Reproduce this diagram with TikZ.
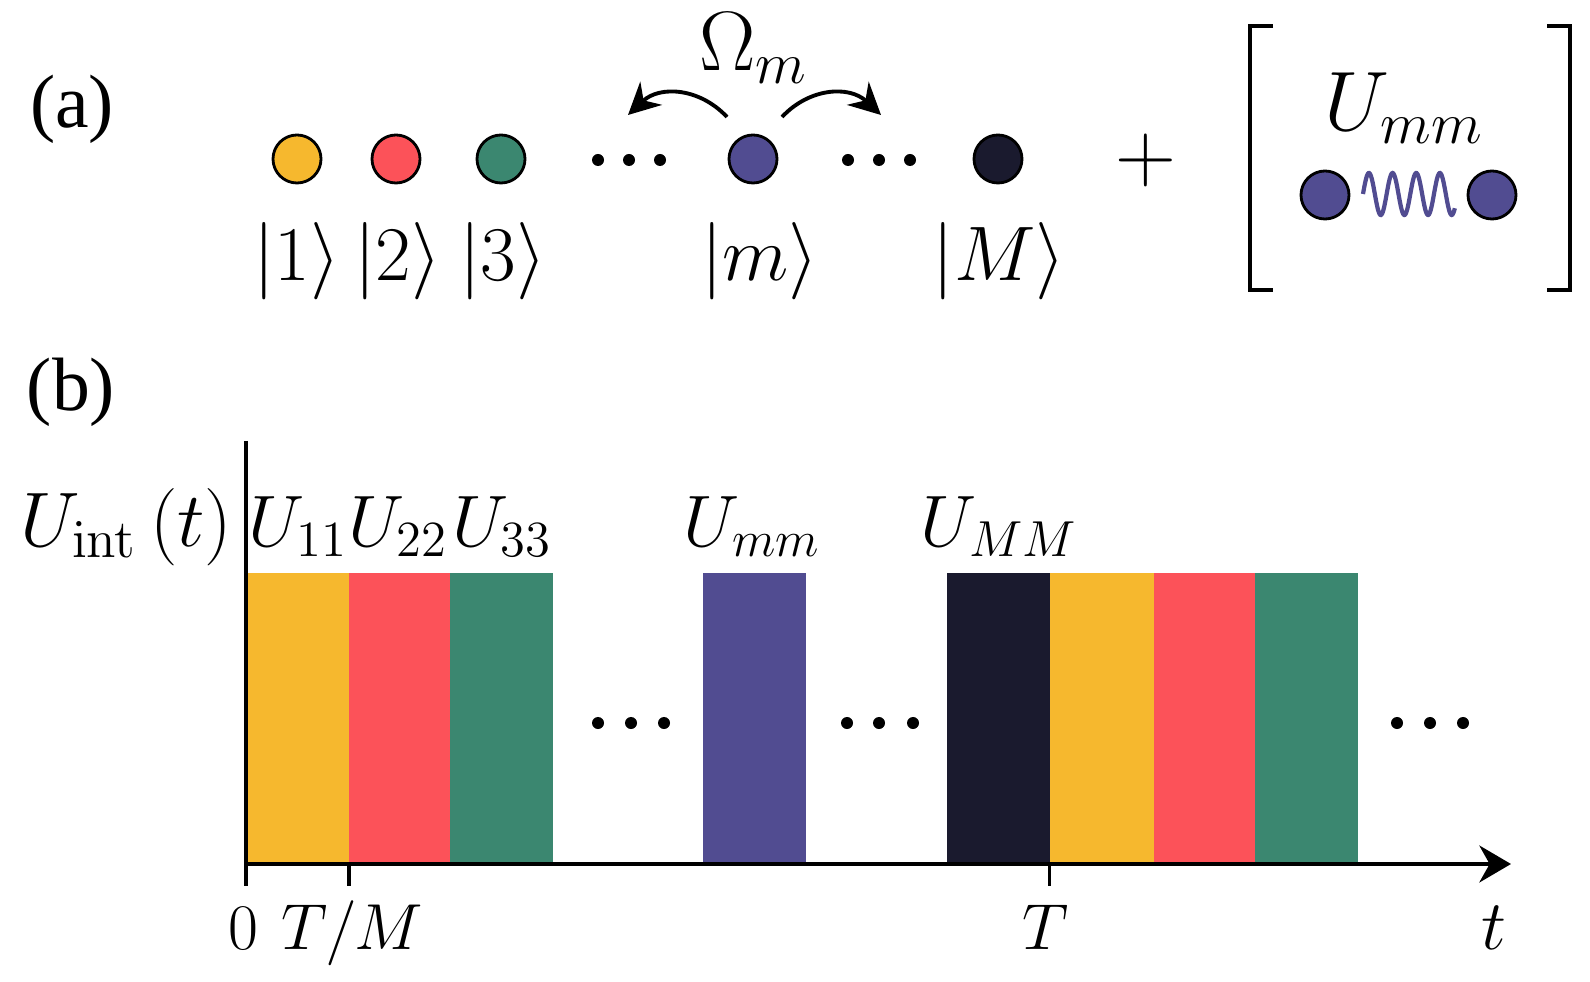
\RequirePackage{fix-cm}
\documentclass[tikz,border=0pt]{standalone}
\usepackage[no-math]{fontspec}
\newfontfamily\tmsfont{Liberation Serif}
\usetikzlibrary{arrows.meta}
\definecolor{amarillo}{HTML}{F6B82E}
\definecolor{rojo}{HTML}{FC5259}
\definecolor{verde}{HTML}{3B8770}
\definecolor{morado}{HTML}{514C91}
\definecolor{negro}{HTML}{1A1A2E}
\begin{document}
\begin{tikzpicture}[x=0.01cm, y=-0.01cm,
    every node/.style={font=\huge, inner sep=0pt},
    grande/.style={font=\fontsize{24}{28}\selectfont},
    ket/.style={font=\fontsize{22}{26}\selectfont, anchor=base},
    panel/.style={font=\fontsize{21.5}{26}\selectfont\tmsfont},
    marca/.style={font=\fontsize{18.5}{22}\selectfont, anchor=base},
    estado/.style={circle, draw=black, line width=0.8pt, minimum size=0.48cm, inner sep=0pt},
    punto/.style={circle, fill=black, minimum size=0.12cm, inner sep=0pt},
    flecha/.style={-{Stealth[length=9pt, width=9pt]}, line width=1.1pt}]
                \useasboundingbox (0,0) rectangle (1590,982);

                % Panel (a)
                \node[panel] (pa) at (72,109) {(a)};

                % Estados
                \node[estado, fill=amarillo] (e1) at (297,159) {};
                \node[estado, fill=rojo] (e2) at (396,159) {};
                \node[estado, fill=verde] (e3) at (501,159) {};
                \node[estado, fill=morado] (em) at (753,159) {};
                \node[estado, fill=negro] (eM) at (998,159) {};
                \node[ket] (k1) at (297,281) {$|1\rangle$};
                \node[ket] (k2) at (398,281) {$|2\rangle$};
                \node[ket] (k3) at (503,281) {$|3\rangle$};
                \node[ket] (km) at (760,281) {$|m\rangle$};
                \node[ket] (kM) at (999,281) {$|M\rangle$};

                % Puntos
                \node[punto] (p1) at (598,160) {};
                \node[punto] (p2) at (629,160) {};
                \node[punto] (p3) at (660,160) {};
                \node[punto] (p4) at (848,160) {};
                \node[punto] (p5) at (879,160) {};
                \node[punto] (p6) at (910,160) {};

                % Saltos
                \coordinate (si) at (727,117);
                \coordinate (sd) at (782,117);
                \coordinate (izq) at (628,115);
                \coordinate (der) at (881,115);
                \draw[flecha] (si) .. controls (700,88) and (660,85) .. (izq);
                \draw[flecha] (sd) .. controls (809,88) and (849,85) .. (der);
                \node[grande, anchor=base] (omega) at (754,71) {$\Omega_m$};

                \node[grande] (mas) at (1146,160) {$+$};

                % Interaccion
                \draw[line width=1.1pt] (1273,26) -- (1250,26) -- (1250,290) -- (1273,290);
                \draw[line width=1.1pt] (1547,26) -- (1570,26) -- (1570,290) -- (1547,290);
                \node[grande, anchor=base] (umm) at (1404,131) {$U_{mm}$};
                \node[estado, fill=morado] (b1) at (1325,195) {};
                \node[estado, fill=morado] (b2) at (1492,195) {};
                \draw[morado, line width=1.2pt, domain=0:1, samples=150, smooth, variable=\s] plot ({1363+92*\s}, {194-21*sin(1400*\s)});

                % Panel (b)
                \node[panel] (pb) at (71,392) {(b)};

                % Barras
                \fill[amarillo] (246.4,573) rectangle (348.8,864);
                \fill[rojo] (348.8,573) rectangle (450.2,864);
                \fill[verde] (450.2,573) rectangle (552.6,864);
                \fill[morado] (702.7,573) rectangle (806.1,864);
                \fill[negro] (947.1,573) rectangle (1049.5,864);
                \fill[amarillo] (1049.5,573) rectangle (1153.9,864);
                \fill[rojo] (1153.9,573) rectangle (1255.3,864);
                \fill[verde] (1255.3,573) rectangle (1357.7,864);

                % Ejes
                \coordinate (origen) at (246.4,864);
                \coordinate (arriba) at (246.4,441);
                \coordinate (fin) at (1511,864);
                \draw[line width=1.1pt] (arriba) -- (origen);
                \draw[flecha, -{Stealth[length=9pt, width=10.5pt]}] (origen) -- (fin);
                \draw[line width=1.1pt] (246.4,864) -- (246.4,886);
                \draw[line width=1.1pt] (348.8,864) -- (348.8,886);
                \draw[line width=1.1pt] (1049.5,864) -- (1049.5,886);
                \node[marca] (cero) at (243,949) {$0$};
                \node[marca] (tm) at (352,949) {$T/M$};
                \node[marca] (tT) at (1046,949) {$T$};
                \node[marca, font=\fontsize{20}{24}\selectfont] (tt) at (1494,949) {$t$};

                \node[ket, anchor=base east] (uint) at (233,546) {$U_{\mathrm{int}}\,(t)$};
                \node[anchor=base] (u11) at (298,546) {$U_{11}$};
                \node[anchor=base] (u22) at (398,546) {$U_{22}$};
                \node[anchor=base] (u33) at (502,546) {$U_{33}$};
                \node[anchor=base] (umm2) at (752,546) {$U_{mm}$};
                \node[anchor=base] (uMM) at (999,546) {$U_{MM}$};

                \node[punto] (q1) at (598,723) {};
                \node[punto] (q2) at (631,723) {};
                \node[punto] (q3) at (664,723) {};
                \node[punto] (q4) at (847,723) {};
                \node[punto] (q5) at (879,723) {};
                \node[punto] (q6) at (913,723) {};
                \node[punto] (q7) at (1397,723) {};
                \node[punto] (q8) at (1430,723) {};
                \node[punto] (q9) at (1463,723) {};
\end{tikzpicture}
\end{document}
